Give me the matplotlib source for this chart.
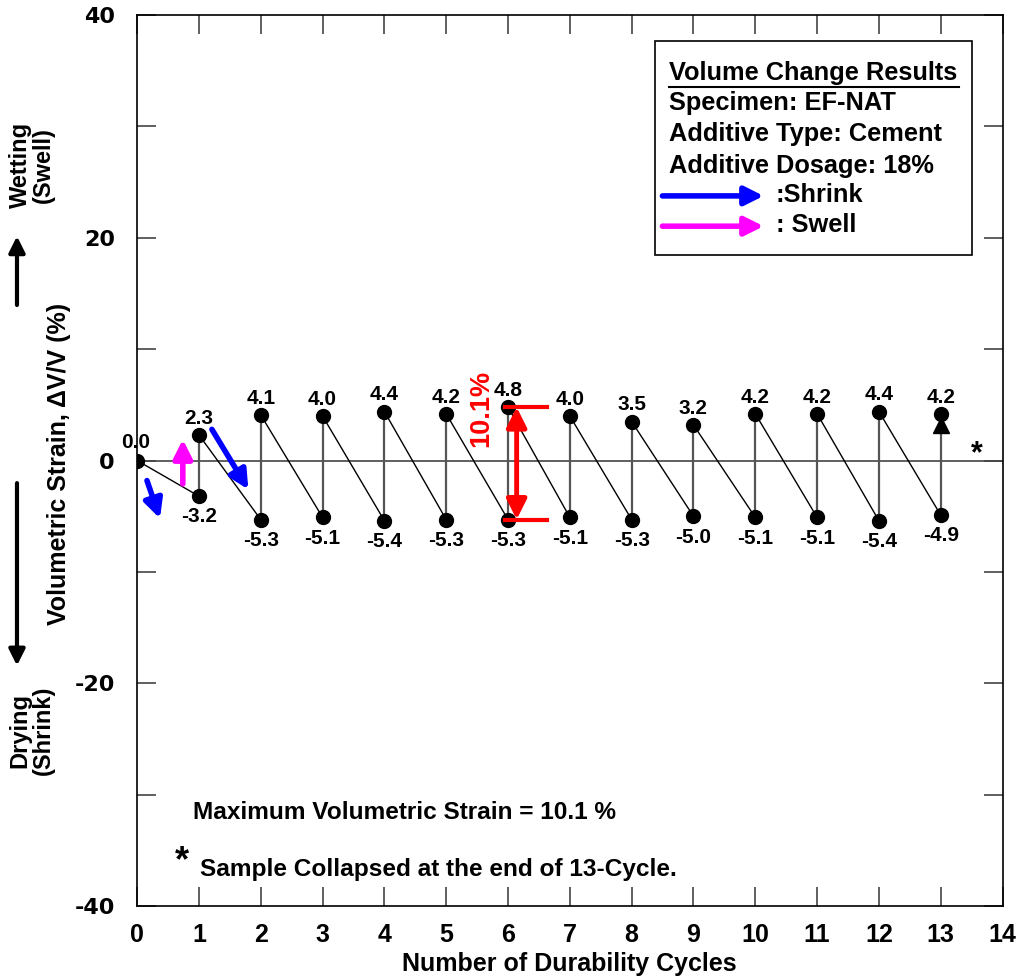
import matplotlib
matplotlib.use("Agg")
import matplotlib.pyplot as plt
from matplotlib.patches import Rectangle, FancyArrowPatch
from matplotlib.lines import Line2D
from matplotlib.ticker import MultipleLocator

plt.rcParams["axes.unicode_minus"] = False

# durability cycle data (volumetric strain %)
cycles = [1, 2, 3, 4, 5, 6, 7, 8, 9, 10, 11, 12, 13]
shrink = [-3.2, -5.3, -5.1, -5.4, -5.3, -5.3, -5.1, -5.3, -5.0, -5.1, -5.1, -5.4, -4.9]
swell = [2.3, 4.1, 4.0, 4.4, 4.2, 4.8, 4.0, 3.5, 3.2, 4.2, 4.2, 4.4, 4.2]
start_cycle = 0
start_strain = 0.0
max_strain = 10.1
max_cycle = 6

bold = dict(fontweight="bold", color="black")
narrow = ["Liberation Sans Narrow", "Liberation Sans", "DejaVu Sans"]
arial = ["Liberation Sans", "DejaVu Sans"]

fig = plt.figure(figsize=(10.23, 9.76), dpi=100)
ax = fig.add_axes([0.134, 0.0717, 0.846, 0.9129])

ax.set_xlim(0, 14)
ax.set_ylim(-40, 40)
ax.axhline(0, color="#444444", lw=1.2, zorder=1)

# path: start -> shrink(1) -> swell(1) -> shrink(2) ...
prev_x, prev_y = start_cycle, start_strain
for c, lo, hi in zip(cycles, shrink, swell):
    ax.plot([prev_x, c], [prev_y, lo], color="black", lw=1.0, zorder=2)
    ax.plot([c, c], [lo, hi], color="#555555", lw=1.6, zorder=2)
    prev_x, prev_y = c, hi

ax.plot([start_cycle] + cycles, [start_strain] + shrink, "o", color="black", ms=10, zorder=4)
ax.plot(cycles, swell, "o", color="black", ms=10, zorder=4)
ax.plot(cycles[-1], swell[-1] - 1.0, "^", color="black", ms=11, zorder=4)

# value labels
ax.annotate("%.1f" % start_strain, (start_cycle, start_strain), xytext=(-1, 13),
            textcoords="offset points", ha="center", va="center", fontsize=15,
            family=arial, **bold)
for c, lo, hi in zip(cycles, shrink, swell):
    ax.annotate("%.1f" % hi, (c, hi), xytext=(0, 12), textcoords="offset points",
                ha="center", va="center", fontsize=15, family=arial, **bold)
    ax.annotate("%.1f" % lo, (c, lo), xytext=(0, -15), textcoords="offset points",
                ha="center", va="center", fontsize=15, family=arial, **bold)

# max strain marker
hi6 = swell[cycles.index(max_cycle)]
lo6 = shrink[cycles.index(max_cycle)]
ax.plot([5.95, 6.63], [hi6, hi6], color="red", lw=3, zorder=5)
ax.plot([5.95, 6.63], [lo6, lo6], color="red", lw=3, zorder=5)
ax.annotate("", xy=(6.14, hi6), xytext=(6.14, lo6),
            arrowprops=dict(arrowstyle="<|-|>", color="red", lw=3.5, mutation_scale=30,
                            shrinkA=0, shrinkB=0), zorder=5)
ax.text(5.56, 4.7, "%.1f%%" % max_strain, rotation=90, color="red", fontsize=19.5,
        fontweight="bold", family=arial, ha="center", va="center")

# shrink / swell arrows in the plot
arrow_kw = dict(arrowstyle="-|>", lw=4, mutation_scale=28, shrinkA=0, shrinkB=0)
ax.annotate("", xy=(0.37, -5.2), xytext=(0.16, -1.8), arrowprops=dict(color="blue", **arrow_kw))
ax.annotate("", xy=(1.8, -2.6), xytext=(1.21, 2.8), arrowprops=dict(color="blue", **arrow_kw))
ax.annotate("", xy=(0.74, 1.9), xytext=(0.74, -2.1), arrowprops=dict(color="#FF00FF", **arrow_kw))

# legend box
ax.add_patch(Rectangle((0.598, 0.731), 0.367, 0.240, transform=ax.transAxes,
                       fill=False, edgecolor="black", lw=1.2, zorder=6))
lines = ["Volume Change Results", "Specimen: EF-NAT", "Additive Type: Cement",
         "Additive Dosage: 18%"]
ys = [0.935, 0.901, 0.866, 0.831]
for t, y in zip(lines, ys):
    ax.text(0.615, y, t, transform=ax.transAxes, fontsize=18.3, family=arial,
            ha="left", va="center", **bold)
ax.add_line(Line2D([0.615, 0.950], [0.919, 0.919], transform=ax.transAxes,
                   color="black", lw=1.5))
ax.annotate("", xy=(0.724, 0.797), xytext=(0.607, 0.797), xycoords="axes fraction",
            arrowprops=dict(color="blue", **arrow_kw))
ax.annotate("", xy=(0.724, 0.763), xytext=(0.607, 0.763), xycoords="axes fraction",
            arrowprops=dict(color="#FF00FF", **arrow_kw))
ax.text(0.738, 0.798, ":Shrink", transform=ax.transAxes, fontsize=18.3, family=arial,
        ha="left", va="center", **bold)
ax.text(0.738, 0.764, ": Swell", transform=ax.transAxes, fontsize=18.3, family=arial,
        ha="left", va="center", **bold)

# notes
ax.text(0.905, -31.6, "Maximum Volumetric Strain = %.1f %%" % max_strain, fontsize=17.6,
        family=arial, ha="left", va="center", **bold)
ax.text(0.72, -36.0, "*", fontsize=26, family=arial, ha="center", va="center", **bold)
ax.text(1.02, -36.7, "Sample Collapsed at the end of 13-Cycle.", fontsize=17.6,
        family=arial, ha="left", va="center", **bold)
ax.text(13.58, 0.6, "*", fontsize=22, family=arial, ha="center", va="center", **bold)

# axes styling
ax.xaxis.set_major_locator(MultipleLocator(1))
ax.yaxis.set_major_locator(MultipleLocator(20))
ax.yaxis.set_minor_locator(MultipleLocator(10))
ax.tick_params(which="both", direction="in", top=True, right=True, length=14,
               width=1.2, color="#444444")
ax.tick_params(axis="x", pad=12)
ax.tick_params(axis="y", pad=16)
for lab in ax.get_xticklabels():
    lab.set_fontfamily(narrow)
    lab.set_fontweight("bold")
    lab.set_fontsize(18)
for lab in ax.get_yticklabels():
    lab.set_fontfamily("DejaVu Sans")
    lab.set_fontweight("bold")
    lab.set_fontsize(16)
for s in ax.spines.values():
    s.set_linewidth(1.2)

ax.set_xlabel("Number of Durability Cycles", fontsize=18, family=narrow,
              fontweight="bold", labelpad=4)

# y axis description on the left
fig.text(0.058, 0.525, "Volumetric Strain, \u0394V/V (%)", rotation=90, fontsize=18,
         family=narrow, fontweight="bold", ha="center", va="center")
fig.text(0.031, 0.831, "Wetting\n(Swell)", rotation=90, fontsize=17, family=narrow,
         fontweight="bold", ha="center", va="center", multialignment="center",
         linespacing=1.0)
fig.text(0.031, 0.252, "Drying\n(Shrink)", rotation=90, fontsize=17, family=narrow,
         fontweight="bold", ha="center", va="center", multialignment="center",
         linespacing=1.0)
side_kw = dict(arrowstyle="-|>", lw=3, mutation_scale=24, color="black",
               shrinkA=0, shrinkB=0)
fig.patches.append(FancyArrowPatch((0.0166, 0.6875), (0.0166, 0.758),
                   transform=fig.transFigure, **side_kw))
fig.patches.append(FancyArrowPatch((0.0166, 0.505), (0.0166, 0.318),
                   transform=fig.transFigure, **side_kw))

plt.savefig("out.png", dpi=100)
